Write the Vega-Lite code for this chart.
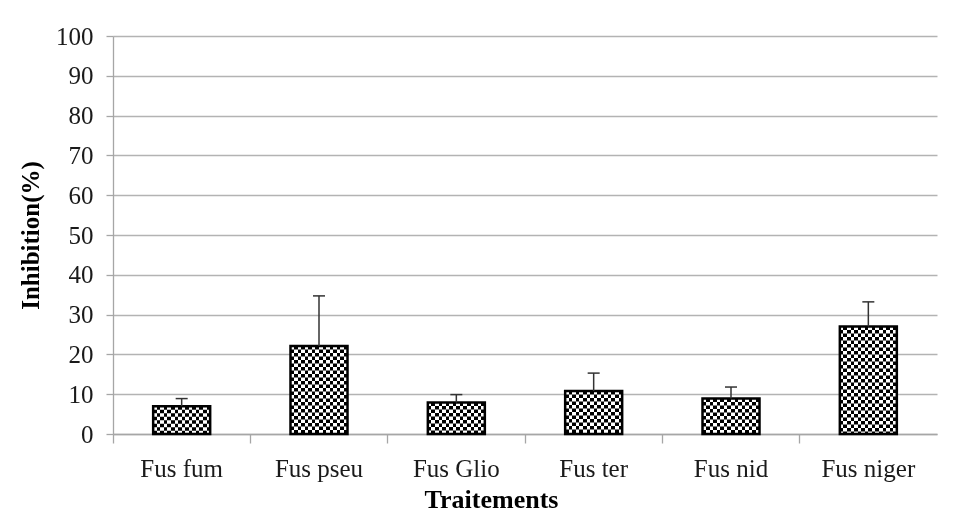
{
  "$schema": "https://vega.github.io/schema/vega-lite/v6.json",
  "width": 824,
  "height": 398,
  "autosize": {"type": "none"},
  "padding": {"left": 113, "top": 36, "right": 17, "bottom": 81},
  "background": "white",
  "config": {
    "view": {"stroke": null},
    "font": "Liberation Serif",
    "axis": {
      "labelFont": "Liberation Serif",
      "titleFont": "Liberation Serif",
      "labelColor": "#1a1a1a",
      "titleColor": "#000000",
      "domainColor": "#a6a6a6",
      "tickColor": "#a6a6a6",
      "gridColor": "#b3b3b3",
      "domainWidth": 1.3,
      "tickWidth": 1.3,
      "gridWidth": 1.3,
      "labelOverlap": false
    }
  },
  "data": {
    "values": [
      {"Traitement": "Fus fum", "Inhibition": 7.0, "Haut": 8.9},
      {"Traitement": "Fus pseu", "Inhibition": 22.1, "Haut": 34.7},
      {"Traitement": "Fus  Glio", "Inhibition": 7.9, "Haut": 9.9},
      {"Traitement": "Fus ter", "Inhibition": 10.8, "Haut": 15.3},
      {"Traitement": "Fus nid", "Inhibition": 8.9, "Haut": 11.8},
      {"Traitement": "Fus niger", "Inhibition": 27.0, "Haut": 33.2}
    ]
  },
  "encoding": {
    "x": {
      "field": "Traitement",
      "type": "nominal",
      "sort": null,
      "scale": {"paddingInner": 0, "paddingOuter": 0},
      "axis": {
        "title": "Traitements",
        "titleFontSize": 26,
        "titleFontWeight": "bold",
        "titleX": 378,
        "titleY": 73,
        "titleBaseline": "alphabetic",
        "labelFontSize": 25,
        "labelAngle": 0,
        "labelPadding": 13,
        "labelOverlap": false,
        "tickSize": 9,
        "bandPosition": 0,
        "grid": false
      }
    },
    "y": {
      "field": "Inhibition",
      "type": "quantitative",
      "scale": {"domain": [0, 100], "nice": false},
      "axis": {
        "title": "Inhibition(%)",
        "titleFontSize": 25,
        "titleFontWeight": "bold",
        "titlePadding": 12,
        "labelFontSize": 25,
        "labelPadding": 13,
        "labelOverlap": false,
        "tickSize": 7,
        "values": [0, 10, 20, 30, 40, 50, 60, 70, 80, 90, 100],
        "grid": true
      }
    }
  },
  "layer": [
    {
      "mark": {
        "type": "bar",
        "width": 57,
        "stroke": null,
        "fill": {
          "gradient": "linear",
          "x1": 0, "y1": 0, "x2": 1, "y2": 0,
          "stops": [
            {"offset": 0, "color": "#000000"}, {"offset": 0.0625, "color": "#000000"},
            {"offset": 0.0625, "color": "#ffffff"}, {"offset": 0.125, "color": "#ffffff"},
            {"offset": 0.125, "color": "#000000"}, {"offset": 0.1875, "color": "#000000"},
            {"offset": 0.1875, "color": "#ffffff"}, {"offset": 0.25, "color": "#ffffff"},
            {"offset": 0.25, "color": "#000000"}, {"offset": 0.3125, "color": "#000000"},
            {"offset": 0.3125, "color": "#ffffff"}, {"offset": 0.375, "color": "#ffffff"},
            {"offset": 0.375, "color": "#000000"}, {"offset": 0.4375, "color": "#000000"},
            {"offset": 0.4375, "color": "#ffffff"}, {"offset": 0.5, "color": "#ffffff"},
            {"offset": 0.5, "color": "#000000"}, {"offset": 0.5625, "color": "#000000"},
            {"offset": 0.5625, "color": "#ffffff"}, {"offset": 0.625, "color": "#ffffff"},
            {"offset": 0.625, "color": "#000000"}, {"offset": 0.6875, "color": "#000000"},
            {"offset": 0.6875, "color": "#ffffff"}, {"offset": 0.75, "color": "#ffffff"},
            {"offset": 0.75, "color": "#000000"}, {"offset": 0.8125, "color": "#000000"},
            {"offset": 0.8125, "color": "#ffffff"}, {"offset": 0.875, "color": "#ffffff"},
            {"offset": 0.875, "color": "#000000"}, {"offset": 0.9375, "color": "#000000"},
            {"offset": 0.9375, "color": "#ffffff"}, {"offset": 1, "color": "#ffffff"}
          ]
        }
      }
    },
    {
      "mark": {
        "type": "rule",
        "stroke": "#ffffff",
        "strokeWidth": 57,
        "strokeDash": [3.5, 3.5],
        "strokeCap": "butt",
        "blend": "difference"
      },
      "encoding": {
        "y2": {"datum": 0}
      }
    },
    {
      "mark": {
        "type": "bar",
        "width": 57,
        "fill": null,
        "fillOpacity": 0,
        "stroke": "#000000",
        "strokeWidth": 2.5
      }
    },
    {
      "mark": {"type": "rule", "stroke": "#333333", "strokeWidth": 1.5},
      "encoding": {
        "y2": {"field": "Haut"}
      }
    },
    {
      "mark": {"type": "tick", "color": "#333333", "size": 12, "thickness": 1.5, "opacity": 1},
      "encoding": {
        "y": {
          "field": "Haut",
          "type": "quantitative",
          "axis": {
            "title": "Inhibition(%)",
            "titleFontSize": 25,
            "titleFontWeight": "bold",
            "titlePadding": 12,
            "labelFontSize": 25,
            "labelPadding": 13,
            "labelOverlap": false,
            "tickSize": 7,
            "values": [0, 10, 20, 30, 40, 50, 60, 70, 80, 90, 100],
            "grid": true
          }
        }
      }
    }
  ]
}
